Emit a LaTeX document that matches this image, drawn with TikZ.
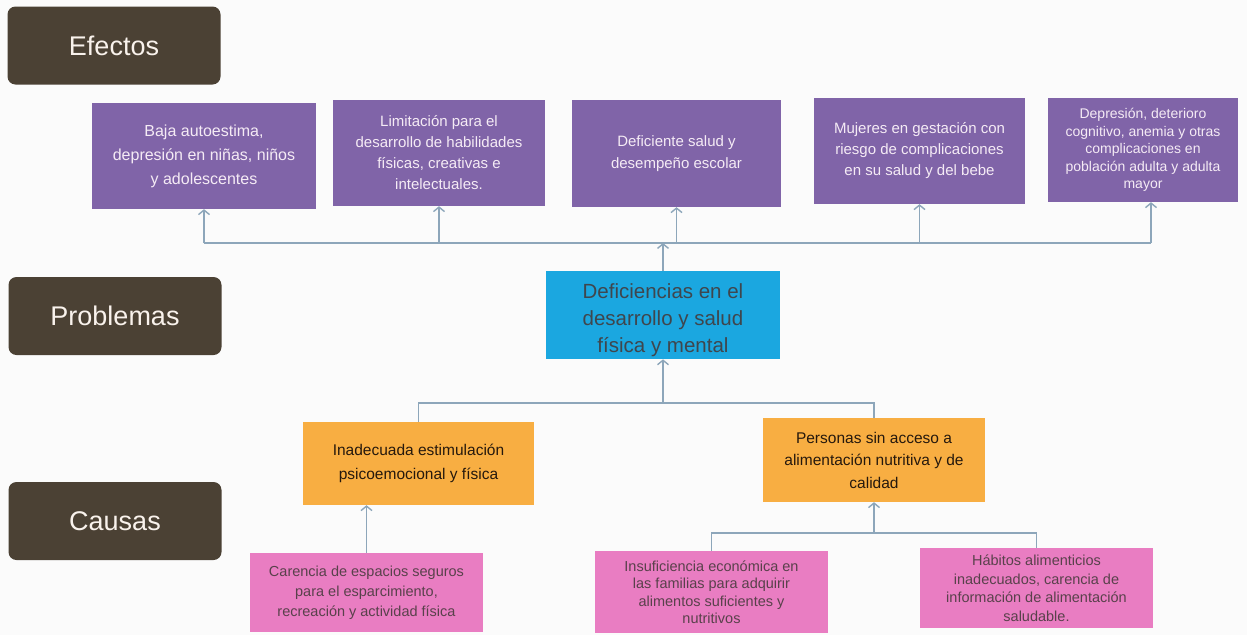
\documentclass[tikz,border=0pt]{standalone}
\usepackage{fontspec}
\setmainfont{Liberation Sans}
\usetikzlibrary{arrows.meta}

\definecolor{labelbrown}{HTML}{4B4134}
\definecolor{effpurple}{HTML}{8064A8}
\definecolor{probcyan}{HTML}{1BA7E0}
\definecolor{causeorange}{HTML}{F8AE42}
\definecolor{rootpink}{HTML}{E97DC2}
\definecolor{linkgray}{HTML}{8DA6BA}

\newcommand{\fsz}[2]{\fontsize{#1}{#2}\selectfont}

\begin{document}
\begin{tikzpicture}[x=1pt, y=-1pt, >={Straight Barb[length=4.5pt,width=11pt]},
  every node/.style={inner sep=2pt, align=center},
  level/.style={fill=labelbrown, rounded corners=8pt, text=white!90!brown,
    minimum width=213pt, minimum height=78pt, font=\fsz{27}{30}},
  effbox/.style={fill=effpurple, text=white!92!violet},
  probbox/.style={fill=probcyan, text=black!80!cyan, font=\fsz{20.5}{27}},
  causebox/.style={fill=causeorange, text=black!80!brown},
  rootbox/.style={fill=rootpink, text=black!75!magenta},
  link/.style={draw=linkgray, line width=1.4pt}]
  % page
  \fill[white!97!gray] (0,0) rectangle (1247,635);
  \useasboundingbox (0,0) rectangle (1247,635);

  % level labels
  \node[level] (efectos) at (114,45.5) {Efectos};
  \node[level] (problemas) at (115,316) {Problemas};
  \node[level] (causas) at (115,521) {Causas};

  % effects
  \node[effbox, minimum width=224pt, minimum height=106pt, font=\fsz{16}{24}] (efe1) at (204,156)
    {Baja autoestima,\\depresión en niñas, niños\\y adolescentes};
  \node[effbox, minimum width=212pt, minimum height=106pt, font=\fsz{15}{21}] (efe2) at (439,153)
    {Limitación para el\\desarrollo de habilidades\\físicas, creativas e\\intelectuales.};
  \node[effbox, minimum width=209pt, minimum height=107pt, font=\fsz{15}{22}] (efe3) at (676.5,153.5)
    {Deficiente salud y\\desempeño escolar};
  \node[effbox, minimum width=211pt, minimum height=106pt, font=\fsz{15}{21}] (efe4) at (919.5,151)
    {Mujeres en gestación con\\riesgo de complicaciones\\en su salud y del bebe};
  \node[effbox, minimum width=190pt, minimum height=104pt, font=\fsz{14}{17.5}] (efe5) at (1143,150)
    {Depresión, deterioro\\cognitivo, anemia y otras\\complicaciones en\\población adulta y adulta\\mayor};

  % problem
  \node[probbox, minimum width=234pt, minimum height=86pt] (prob) at (663,315)
    {\rule{0pt}{26pt}Deficiencias en el\\desarrollo y salud\\física y mental};

  % causes
  \node[causebox, minimum width=231pt, minimum height=83pt, font=\fsz{15.5}{24}] (cau1) at (418.5,463.5)
    {Inadecuada estimulación\\psicoemocional y física};
  \node[causebox, minimum width=222pt, minimum height=84pt, font=\fsz{15.5}{22.5}] (cau2) at (874,460)
    {Personas sin acceso a\\alimentación nutritiva y de\\calidad};

  % root causes
  \node[rootbox, minimum width=233pt, minimum height=79pt, font=\fsz{14.5}{20}] (raiz1) at (366.5,592.5)
    {Carencia de espacios seguros\\para el esparcimiento,\\recreación y actividad física};
  \node[rootbox, minimum width=233pt, minimum height=82pt, font=\fsz{14.5}{17.5}] (raiz2) at (711.5,592)
    {Insuficiencia económica en\\las familias para adquirir\\alimentos suficientes y\\nutritivos};
  \node[rootbox, minimum width=233pt, minimum height=80pt, font=\fsz{14.5}{18.5}] (raiz3) at (1036.5,588)
    {Hábitos alimenticios\\inadecuados, carencia de\\información de alimentación\\saludable.};

  % bus lines
  \coordinate (busE) at (663,243);
  \coordinate (busC) at (663,403);
  \coordinate (busR) at (874,533);
  \coordinate (efe5in) at ([xshift=8pt]efe5.south);

  % problem -> effects
  \draw[link, ->] (prob.north) -- (busE);
  \draw[link] (efe1.south |- busE) -- (efe5in |- busE);
  \foreach \e in {efe1,efe2,efe3,efe4}{
    \draw[link, ->] (\e.south |- busE) -- (\e.south);
  }
  \draw[link, ->] (efe5in |- busE) -- (efe5in);

  % causes -> problem
  \draw[link] (cau1.north) |- (busC) -| (cau2.north);
  \draw[link, ->] (busC) -- (prob.south);

  % root causes -> causes
  \draw[link, ->] (raiz1.north) -- (raiz1.north |- cau1.south);
  \draw[link] (raiz2.north) |- (busR) -| (raiz3.north);
  \draw[link, ->] (busR) -- (cau2.south);
\end{tikzpicture}
\end{document}
